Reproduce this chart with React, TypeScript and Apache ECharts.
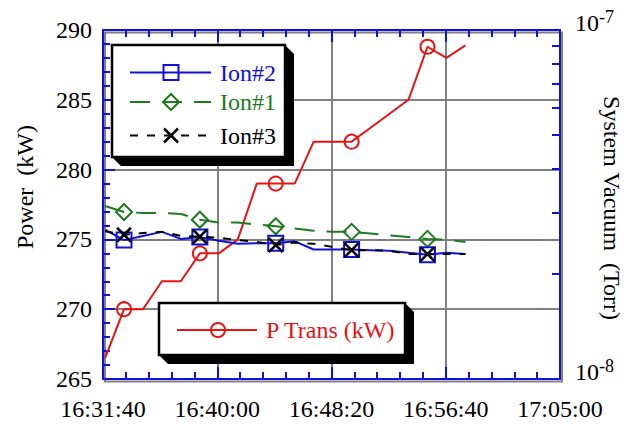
import { useEffect, useRef } from "react";
import * as echarts from "echarts";

// ---- data ----
const sampleTimes = [
  "16:31:49", "16:33:12", "16:34:35", "16:35:58", "16:37:21",
  "16:38:44", "16:40:07", "16:41:30", "16:42:53", "16:44:16",
  "16:45:39", "16:47:02", "16:48:25", "16:49:48", "16:51:11",
  "16:52:34", "16:53:57", "16:55:20", "16:56:43", "16:58:06",
];
const pTrans = [266.5, 270, 270, 272, 272, 274, 274, 275, 279, 279, 279, 282, 282, 282, 283, 284, 285, 288.8, 288, 288.9];
const ion2 = [2.68e-8, 2.5e-8, 2.57e-8, 2.64e-8, 2.52e-8, 2.55e-8, 2.49e-8, 2.44e-8, 2.45e-8, 2.45e-8, 2.48e-8, 2.35e-8, 2.35e-8, 2.35e-8, 2.34e-8, 2.33e-8, 2.3e-8, 2.27e-8, 2.3e-8, 2.28e-8];
const ion1 = [3.13e-8, 3.01e-8, 2.99e-8, 2.99e-8, 2.97e-8, 2.86e-8, 2.81e-8, 2.81e-8, 2.77e-8, 2.74e-8, 2.7e-8, 2.66e-8, 2.64e-8, 2.64e-8, 2.61e-8, 2.58e-8, 2.55e-8, 2.52e-8, 2.51e-8, 2.47e-8];
const ion3 = [2.65e-8, 2.59e-8, 2.62e-8, 2.64e-8, 2.57e-8, 2.56e-8, 2.54e-8, 2.5e-8, 2.47e-8, 2.42e-8, 2.46e-8, 2.44e-8, 2.39e-8, 2.34e-8, 2.34e-8, 2.33e-8, 2.28e-8, 2.28e-8, 2.28e-8, 2.28e-8];
const markerIdx = [1, 5, 9, 13, 17];
const timeRange = ["16:31:40", "17:05:00"];
const timeStep = 500;
const powerRange = [265, 290];
const powerStep = 5;
const vacuumRange = [1e-8, 1e-7];
const vacuumTicks = [1e-8, 2e-8, 3e-8, 4e-8, 5e-8, 6e-8, 7e-8, 8e-8, 9e-8, 1e-7];

// ---- styles ----
const BLUE = "#1010dc";
const GREEN = "#1d7a1d";
const RED = "#e31414";
const GRAY = "#808080";
const FONT = "Liberation Serif";
const X_SYMBOL = "path://M0,0L10,10M10,0L0,10";

const toSec = (s: string) => {
  const [h, m, ss] = s.split(":").map(Number);
  return h * 3600 + m * 60 + ss;
};
const pad = (n: number) => String(n).padStart(2, "0");
const fmt = (v: number) => `${pad(Math.floor(v / 3600))}:${pad(Math.floor((v % 3600) / 60))}:${pad(v % 60)}`;

const build = (vals: number[]) =>
  vals.map((v, i) => {
    const value = [toSec(sampleTimes[i]), v];
    return markerIdx.includes(i) ? { value } : { value, symbol: "none" };
  });

export default function App() {
  const ref = useRef<HTMLDivElement>(null);
  useEffect(() => {
    if (!ref.current) return;
    const chart = echarts.init(ref.current, undefined, { renderer: "svg" });
    const gl = 103, gt = 30, gr = 560, gb = 379;

    const axisBase = {
      axisLine: { show: true, lineStyle: { color: BLUE, width: 2 } },
      axisTick: { show: true, inside: true, length: 12, lineStyle: { color: BLUE, width: 2 } },
      minorTick: { show: true, splitNumber: 5, length: 7, lineStyle: { color: BLUE, width: 2 } },
    };
    const xBase = {
      type: "value",
      min: toSec(timeRange[0]),
      max: toSec(timeRange[1]),
      interval: timeStep,
      z: 1,
      ...axisBase,
    };

    // legend helpers
    const legendBox = (x: number, y: number, w: number, h: number, d: number) => [
      {
        type: "polygon",
        z: 50,
        shape: { points: [[x + w, y], [x + w + d, y + d], [x + w + d, y + h + d], [x + d, y + h + d], [x, y + h], [x + w, y + h]] },
        style: { fill: "#000" },
      },
      {
        type: "rect",
        z: 51,
        shape: { x, y, width: w, height: h },
        style: { fill: "#fff", stroke: "#000", lineWidth: 2.5 },
      },
    ];
    const legendLine = (x1: number, x2: number, y: number, color: string, dash?: number[]) => ({
      type: "line",
      z: 52,
      shape: { x1, y1: y, x2, y2: y },
      style: { stroke: color, lineWidth: 2, lineDash: dash },
    });
    const legendText = (x: number, y: number, text: string, color: string) => ({
      type: "text",
      z: 53,
      x,
      y,
      style: { text, fill: color, font: `24px "${FONT}"`, align: "left", verticalAlign: "middle" },
    });

    const lx1 = 130, lx2 = 211, lsx = 171, ltx = 220;
    const rows = [72.5, 102, 135.5];

    chart.setOption({
      animation: false,
      backgroundColor: "#fff",
      grid: { left: gl, top: gt, right: 633 - gr, bottom: 424 - gb },
      xAxis: [
        {
          ...xBase,
          position: "bottom",
          axisLabel: {
            show: true,
            margin: 18,
            color: "#000",
            fontSize: 24,
            fontFamily: FONT,
            formatter: (v: number) => fmt(v),
          },
          splitLine: { show: true, lineStyle: { color: GRAY, width: 2 } },
        },
        {
          ...xBase,
          position: "top",
          axisLabel: { show: false },
          splitLine: { show: false },
        },
      ],
      yAxis: [
        {
          type: "value",
          position: "left",
          min: powerRange[0],
          max: powerRange[1],
          interval: powerStep,
          z: 1,
          ...axisBase,
          axisLabel: { show: true, margin: 11, color: "#000", fontSize: 24, fontFamily: FONT },
          splitLine: { show: true, lineStyle: { color: GRAY, width: 2 } },
        },
        {
          type: "log",
          logBase: 10,
          position: "right",
          min: vacuumRange[0],
          max: vacuumRange[1],
          z: 1,
          axisLine: { show: true, lineStyle: { color: BLUE, width: 2 } },
          axisTick: {
            show: true,
            inside: true,
            length: 8,
            customValues: vacuumTicks,
            lineStyle: { color: BLUE, width: 2 },
          },
          axisLabel: {
            show: true,
            margin: 15,
            color: "#000",
            verticalAlign: "middle",
            padding: [0, 0, 14, 0],
            formatter: (v: number) => `{b|10}{s|${Math.round(Math.log10(v))}}`,
            rich: {
              b: { fontSize: 24, lineHeight: 30, fontFamily: FONT, color: "#000" },
              s: { fontSize: 18, lineHeight: 18, fontFamily: FONT, color: "#000", verticalAlign: "top" },
            },
          },
          splitLine: { show: false },
        },
      ],
      graphic: [
        {
          type: "rect",
          z: 0,
          shape: { x: gl + 2, y: gt + 2.5, width: gr - gl, height: gb - gt },
          style: { fill: "none", stroke: GRAY, lineWidth: 2 },
        },
        {
          type: "text",
          x: 25,
          y: 187,
          rotation: Math.PI / 2,
          style: { text: "Power  (kW)", fill: "#000", font: `24px "${FONT}"`, align: "center", verticalAlign: "middle" },
        },
        {
          type: "text",
          x: 612,
          y: 208,
          rotation: -Math.PI / 2,
          style: { text: "System Vacuum  (Torr)", fill: "#000", font: `24px "${FONT}"`, align: "center", verticalAlign: "middle" },
        },
        // legend 1
        ...legendBox(112, 45, 173, 112, 9),
        legendLine(lx1, lx2, rows[0], BLUE),
        { type: "rect", z: 53, shape: { x: lsx - 7.5, y: rows[0] - 7.5, width: 15, height: 15 }, style: { fill: "none", stroke: BLUE, lineWidth: 2 } },
        legendText(ltx, rows[0], "Ion#2", BLUE),
        legendLine(lx1, lx2, rows[1], GREEN, [20, 12]),
        { type: "polygon", z: 53, shape: { points: [[lsx, rows[1] - 8], [lsx + 8, rows[1]], [lsx, rows[1] + 8], [lsx - 8, rows[1]]] }, style: { fill: "none", stroke: GREEN, lineWidth: 2 } },
        legendText(ltx, rows[1], "Ion#1", GREEN),
        legendLine(lx1, lx2, rows[2], "#000", [8, 9]),
        { type: "line", z: 53, shape: { x1: lsx - 7, y1: rows[2] - 7, x2: lsx + 7, y2: rows[2] + 7 }, style: { stroke: "#000", lineWidth: 2.5 } },
        { type: "line", z: 53, shape: { x1: lsx - 7, y1: rows[2] + 7, x2: lsx + 7, y2: rows[2] - 7 }, style: { stroke: "#000", lineWidth: 2.5 } },
        legendText(ltx, rows[2], "Ion#3", "#000"),
        // legend 2
        ...legendBox(159, 303, 246, 52, 9),
        legendLine(177, 257, 330, RED),
        { type: "circle", z: 53, shape: { cx: 218, cy: 330, r: 7 }, style: { fill: "none", stroke: RED, lineWidth: 2 } },
        legendText(266, 330, "P Trans (kW)", RED),
      ],
      series: [
        {
          name: "P Trans (kW)",
          type: "line",
          xAxisIndex: 0,
          yAxisIndex: 0,
          data: build(pTrans),
          symbol: "circle",
          symbolSize: 14,
          lineStyle: { color: RED, width: 2 },
          itemStyle: { color: "rgba(0,0,0,0)", borderColor: RED, borderWidth: 2 },
          z: 2,
        },
        {
          name: "Ion#1",
          type: "line",
          xAxisIndex: 0,
          yAxisIndex: 1,
          data: build(ion1),
          symbol: "diamond",
          symbolSize: 16,
          lineStyle: { color: GREEN, width: 2, type: [20, 12] },
          itemStyle: { color: "rgba(0,0,0,0)", borderColor: GREEN, borderWidth: 2 },
          z: 3,
        },
        {
          name: "Ion#2",
          type: "line",
          xAxisIndex: 0,
          yAxisIndex: 1,
          data: build(ion2),
          symbol: "rect",
          symbolSize: 15,
          lineStyle: { color: BLUE, width: 2 },
          itemStyle: { color: "rgba(0,0,0,0)", borderColor: BLUE, borderWidth: 2 },
          z: 4,
        },
        {
          name: "Ion#3",
          type: "line",
          xAxisIndex: 0,
          yAxisIndex: 1,
          data: build(ion3),
          symbol: X_SYMBOL,
          symbolSize: 14,
          lineStyle: { color: "#000", width: 2, type: [8, 9] },
          itemStyle: { color: "rgba(0,0,0,0)", borderColor: "#000", borderWidth: 2.5 },
          z: 5,
        },
      ],
    });
    return () => chart.dispose();
  }, []);
  return (
    <div
      ref={ref}
      style={{ position: "fixed", left: 0, top: 0, width: 633, height: 424, background: "#fff" }}
    />
  );
}
